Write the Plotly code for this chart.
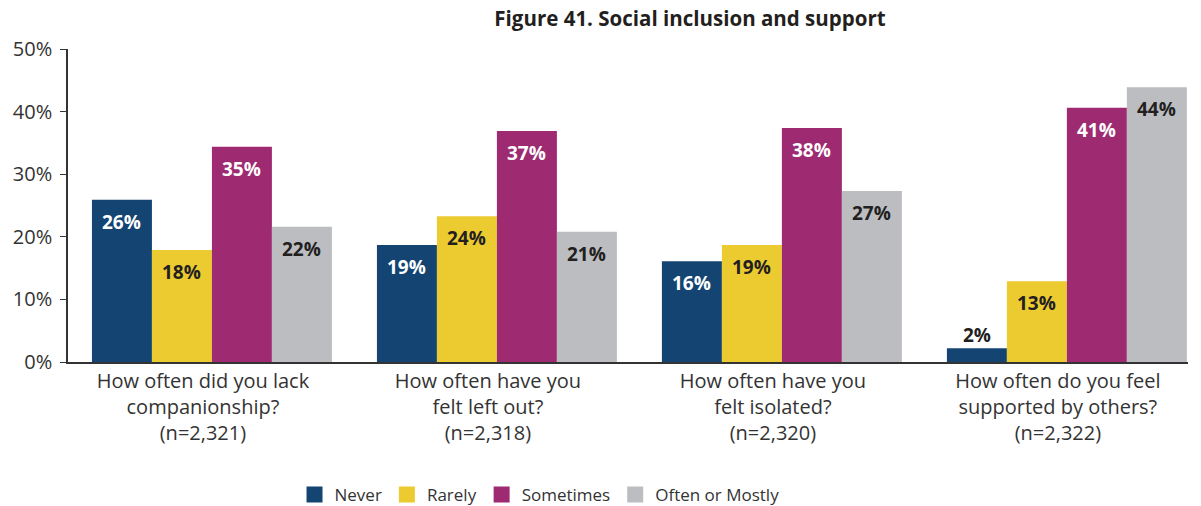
import plotly.graph_objects as go

categories = [
    "How often did you lack<br>companionship?<br>(n=2,321)",
    "How often have you<br>felt left out?<br>(n=2,318)",
    "How often have you<br>felt isolated?<br>(n=2,320)",
    "How often do you feel<br>supported by others?<br>(n=2,322)",
]
series_names = ["Never", "Rarely", "Sometimes", "Often or Mostly"]
never = [25.9, 18.7, 16.1, 2.2]
rarely = [17.9, 23.3, 18.7, 12.9]
sometimes = [34.4, 36.9, 37.4, 40.6]
often = [21.6, 20.8, 27.3, 43.9]
never_lbl = ["26%", "19%", "16%", "2%"]
rarely_lbl = ["18%", "24%", "19%", "13%"]
sometimes_lbl = ["35%", "37%", "38%", "41%"]
often_lbl = ["22%", "21%", "27%", "44%"]
y_ticks = [0, 10, 20, 30, 40, 50]
y_ticktext = ["0%", "10%", "20%", "30%", "40%", "50%"]

colors = ["#134472", "#ECCB31", "#9E2B72", "#BCBDC0"]
label_colors = ["white", "#231F20", "white", "#231F20"]
values = [never, rarely, sometimes, often]
labels = [never_lbl, rarely_lbl, sometimes_lbl, often_lbl]

FONT = "Open Sans"
TXT = "#333333"
fig = go.Figure()
for name, vals, col in zip(series_names, values, colors):
    fig.add_trace(go.Bar(x=categories, y=vals, name=name, marker_color=col,
                         marker_line_width=0, showlegend=False, hoverinfo="skip"))
for name, col in zip(series_names, colors):
    fig.add_trace(go.Scatter(x=[None], y=[None], mode="markers", name=name,
                             marker=dict(symbol="square", size=16, color=col)))

bar_px = 60
annotations = []
for i, (vals, lbls, lc) in enumerate(zip(values, labels, label_colors)):
    for c, v, t in zip(categories, vals, lbls):
        inside = v >= 5
        annotations.append(dict(
            x=c, y=v, text="<b>" + t + "</b>", showarrow=False,
            xshift=(i - 1.5) * bar_px, yshift=-22 if inside else 13,
            yanchor="middle",
            font=dict(family=FONT, size=19, color=lc if inside else "#231F20"),
        ))

fig.update_layout(
    width=1201, height=506,
    margin=dict(l=68, r=13, t=49, b=144, autoexpand=False),
    paper_bgcolor="white", plot_bgcolor="white",
    barmode="group", bargap=0.158, bargroupgap=0,
    font=dict(family=FONT, color=TXT, size=17),
    title=dict(text="<b>Figure 41. Social inclusion and support</b>",
               x=690 / 1201, xanchor="center", y=1 - 19 / 506, yanchor="middle",
               font=dict(family=FONT, size=20.5, color="#231F20")),
    xaxis=dict(range=[-0.505, 3.425], showline=True, linecolor=TXT, linewidth=1.5,
               ticks="", tickfont=dict(size=20, color=TXT), showgrid=False,
               ticklabelshift=-9),
    yaxis=dict(range=[0, 50], tickvals=y_ticks, ticktext=y_ticktext, showline=True,
               linecolor=TXT, linewidth=1.5, ticks="outside", ticklen=6,
               tickcolor=TXT, showgrid=False, zeroline=False,
               ticklabelstandoff=4, tickfont=dict(size=20, color=TXT)),
    legend=dict(orientation="h", x=0.421, xanchor="center", y=-0.367, yanchor="top",
                font=dict(size=17, color=TXT), itemclick=False, itemdoubleclick=False),
    annotations=annotations,
)
fig.write_html("out.html", config={"displayModeBar": False},
               post_script="document.body.style.margin='0';")
